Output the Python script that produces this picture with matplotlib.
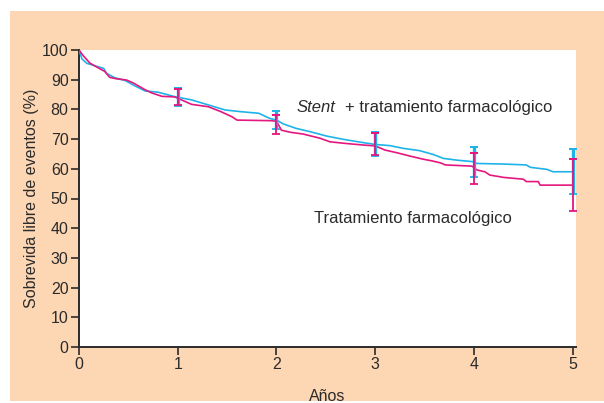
import matplotlib
matplotlib.use("Agg")
import matplotlib.pyplot as plt
import numpy as np

plt.rcParams['font.family'] = ['Liberation Sans', 'DejaVu Sans']

# Data
stent_t = [0, 0.03, 0.08, 0.16, 0.25, 0.28, 0.36, 0.47, 0.55, 0.67, 0.80, 0.97,
           1.14, 1.31, 1.48, 1.65, 1.82, 1.93, 2.0, 2.07, 2.2, 2.34, 2.51, 2.68,
           2.88, 3.0, 3.15, 3.28, 3.45, 3.59, 3.69, 3.83, 3.99, 4.03, 4.30, 4.53,
           4.57, 4.74, 4.80, 5.0]
stent_v = [100, 97, 95.5, 94.7, 93.8, 92.1, 90.7, 89.7, 88.2, 86.2, 85.8, 84.3,
           83.2, 81.5, 79.8, 79.2, 78.7, 77.0, 76.4, 75.1, 73.6, 72.5, 71.0, 69.9,
           68.8, 68.2, 67.8, 66.9, 66.1, 64.8, 63.5, 62.9, 62.4, 61.8, 61.6, 61.3,
           60.5, 59.8, 59.0, 59.0]

med_t = [0, 0.04, 0.11, 0.2, 0.26, 0.31, 0.38, 0.48, 0.55, 0.67, 0.74, 0.84, 0.97,
         1.14, 1.31, 1.44, 1.55, 1.6, 1.95, 2.0, 2.05, 2.14, 2.27, 2.44, 2.54,
         2.68, 2.88, 3.0, 3.1, 3.22, 3.35, 3.49, 3.57, 3.66, 3.71, 3.98, 4.03,
         4.11, 4.16, 4.30, 4.50, 4.53, 4.65, 4.67, 5.0]
med_v = [100, 98.2, 95.6, 93.9, 92.8, 90.8, 90.3, 89.9, 88.9, 86.6, 85.5, 84.4, 84.2,
         81.7, 80.9, 79.2, 77.5, 76.4, 76.2, 76.0, 73.0, 72.3, 71.7, 70.3, 69.1,
         68.6, 68.0, 67.7, 66.3, 65.4, 64.3, 63.2, 62.7, 62.0, 61.3, 60.9, 59.6,
         59.0, 57.9, 57.1, 56.5, 55.7, 55.7, 54.5, 54.5]

err_t = [1, 2, 3, 4, 5]
stent_lo = [81.2, 73.3, 64.3, 57.3, 51.5]
stent_hi = [87.1, 79.6, 72.5, 67.2, 66.5]
med_lo = [81.5, 71.6, 64.6, 54.9, 45.8]
med_hi = [86.8, 78.1, 72.2, 65.4, 63.2]

x_ticks = [0, 1, 2, 3, 4, 5]
y_ticks = [0, 10, 20, 30, 40, 50, 60, 70, 80, 90, 100]

BLUE = '#1fb3ea'
PINK = '#e5177f'
PEACH = '#fdd6b3'
TXT = '#2b2b2b'

fig = plt.figure(figsize=(6.04, 4.03), dpi=100)
fig.patch.set_facecolor('white')

bg = fig.add_axes([10 / 604, 1 - 401 / 403, 594 / 604, 390 / 403], zorder=0)
bg.set_facecolor(PEACH)
bg.set_xticks([]); bg.set_yticks([])
for s in bg.spines.values():
    s.set_visible(False)

ax = fig.add_axes([79 / 604, 1 - 347 / 403, (576 - 79) / 604, (347 - 50) / 403],
                  zorder=1)
ax.set_facecolor('white')

ax.plot(stent_t, stent_v, color=BLUE, lw=1.2, zorder=3)
ax.plot(med_t, med_v, color=PINK, lw=1.2, zorder=4)

def draw_err(lo, hi, color, z, cap, lw):
    lo = np.array(lo); hi = np.array(hi)
    zero = np.zeros_like(lo)
    ax.errorbar(err_t, lo, yerr=[zero, hi - lo], fmt='none',
                ecolor=color, elinewidth=lw, capsize=cap, capthick=1.3, zorder=z,
                clip_on=False)
    ax.errorbar(err_t, hi, yerr=[zero, zero], fmt='none',
                ecolor=color, elinewidth=lw, capsize=cap, capthick=1.3, zorder=z,
                clip_on=False)

draw_err(stent_lo, stent_hi, BLUE, 5, 2.6, 2.4)
draw_err(med_lo, med_hi, PINK, 6, 2.6, 1.3)

ax.set_xlim(0, 5.033)
ax.set_ylim(0, 100)
ax.set_xticks(x_ticks)
ax.set_yticks(y_ticks)
for s in ['top', 'right']:
    ax.spines[s].set_visible(False)
for s in ['left', 'bottom']:
    ax.spines[s].set_color(TXT)
    ax.spines[s].set_linewidth(1.4)
ax.tick_params(axis='both', direction='out', length=5.5, width=1.2, color=TXT,
               labelcolor=TXT, labelsize=11.5, pad=2)

ax.set_xlabel('Años', fontsize=11.5, color=TXT, labelpad=12)
ax.set_ylabel('Sobrevida libre de eventos (%)', fontsize=11.5, color=TXT, labelpad=2)

stent_txt = ax.text(2.2, 80.8, 'Stent', fontsize=12, color=TXT, va='center',
                    ha='left', fontstyle='italic')
ax.annotate('+ tratamiento farmacológico', xy=(1, 0.5), xycoords=stent_txt,
            xytext=(7, 0), textcoords='offset points',
            fontsize=12, color=TXT, va='center', ha='left')
ax.text(2.38, 43.1, 'Tratamiento farmacológico', fontsize=12, color=TXT,
        va='center', ha='left')

fig.savefig('out.png', dpi=100, facecolor=fig.get_facecolor())
